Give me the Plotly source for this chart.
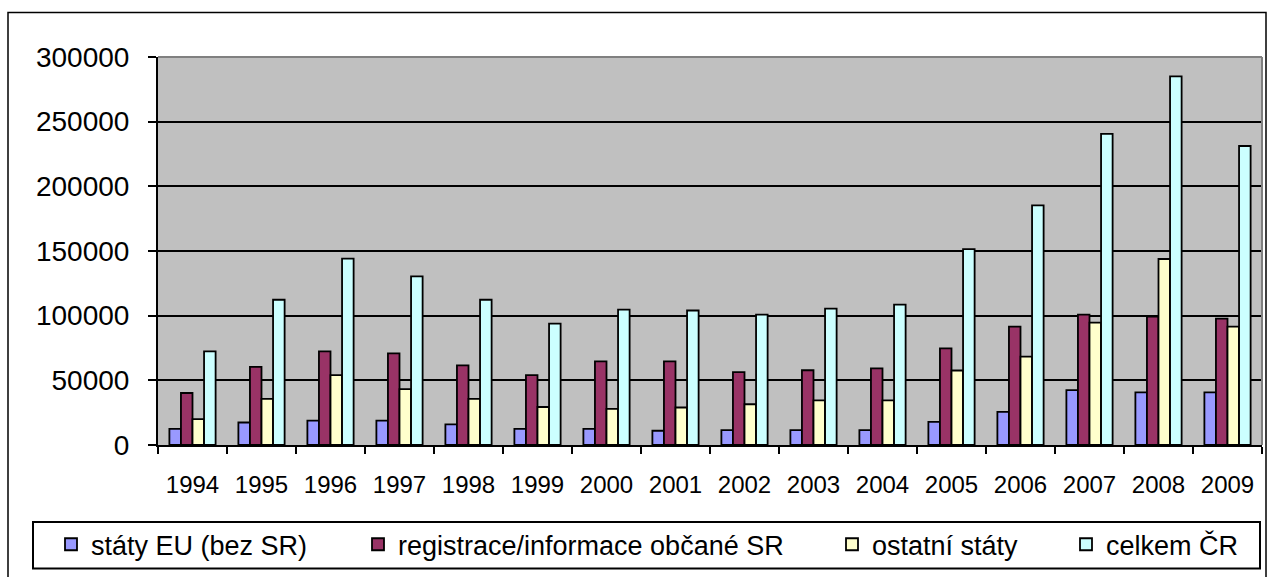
import plotly.graph_objects as go

years = ["1994", "1995", "1996", "1997", "1998", "1999", "2000", "2001",
         "2002", "2003", "2004", "2005", "2006", "2007", "2008", "2009"]
eu_states = [12500, 17400, 18900, 18900, 15900, 12500, 12500, 11000,
             11500, 11500, 11500, 17900, 25600, 42500, 40700, 40700]
sr_citizens = [40200, 60400, 72400, 70900, 61600, 54000, 64700, 64700,
               56300, 57800, 59300, 74700, 91600, 100800, 99300, 97700]
other_states = [20000, 35600, 54000, 43200, 35600, 29400, 27900, 29000,
                31500, 34500, 34500, 57600, 68300, 94600, 143800, 91600]
total_cr = [72400, 112300, 144100, 130400, 112300, 93900, 104600, 104000,
            100800, 105400, 108500, 151400, 185200, 240500, 285000, 231200]

names = ["státy EU (bez SR)", "registrace/informace občané SR", "ostatní státy", "celkem ČR"]
colors = ["#9999FF", "#993366", "#FFFFCC", "#CCFFFF"]
series = [eu_states, sr_citizens, other_states, total_cr]
legend_ids = ["legend", "legend2", "legend3", "legend4"]

W, H = 1270, 577
L, R, T, B = 158, 8, 57, 127
pw = W - L - R
ph = H - T - B

def px_x(x):
    return (x - L) / pw

def px_y(y):
    return (H - B - y) / ph

FONT = "Liberation Sans, Arial, sans-serif"

fig = go.Figure()
for nm, col, vals, lg in zip(names, colors, series, legend_ids):
    fig.add_trace(go.Bar(
        x=years, y=vals, name=nm, legend=lg,
        marker=dict(color=col, line=dict(color="black", width=1.8)),
    ))

legend_centers = [70, 377, 851, 1085]
leg_y = px_y(551)
legend_common = dict(
    orientation="h", yanchor="middle", xanchor="left",
    bgcolor="rgba(0,0,0,0)", borderwidth=0,
    font=dict(family=FONT, size=27, color="black"),
)
layout_legends = {}
for lg, cx in zip(legend_ids, legend_centers):
    layout_legends[lg] = dict(x=px_x(cx - 19), y=leg_y, **legend_common)

fig.update_layout(
    width=W, height=H,
    margin=dict(l=L, r=R, t=T, b=B),
    paper_bgcolor="white",
    plot_bgcolor="#C0C0C0",
    barmode="group",
    bargap=0.33,
    bargroupgap=0,
    showlegend=True,
    **layout_legends,
)

fig.update_xaxes(
    type="category",
    showline=True, linecolor="black", linewidth=2,
    ticks="outside", tickson="boundaries", ticklen=7, tickwidth=2, tickcolor="black",
    tickfont=dict(family=FONT, size=24, color="black"),
    ticklabelstandoff=17,
    showgrid=False,
)
fig.update_yaxes(
    range=[0, 300000], dtick=50000, tickformat="d",
    showline=True, linecolor="black", linewidth=2,
    ticks="outside", ticklen=8, tickwidth=2, tickcolor="black",
    tickfont=dict(family=FONT, size=28, color="black"),
    ticklabelstandoff=13,
    showgrid=True, gridcolor="black", gridwidth=1.5,
    zeroline=False,
)

shapes = [
    dict(type="line", xref="paper", yref="paper", x0=0, x1=1, y0=1, y1=1,
         line=dict(color="#808080", width=2)),
    dict(type="line", xref="paper", yref="paper", x0=1, x1=1, y0=0, y1=1,
         line=dict(color="#808080", width=2)),
    dict(type="rect", xref="paper", yref="paper",
         x0=px_x(33), x1=px_x(1260), y0=px_y(528), y1=px_y(575),
         line=dict(color="black", width=2), fillcolor="rgba(0,0,0,0)"),
    dict(type="rect", xref="paper", yref="paper",
         x0=px_x(8), x1=px_x(1266), y0=px_y(12), y1=px_y(590),
         line=dict(color="black", width=1.5), fillcolor="rgba(0,0,0,0)"),
]
fig.update_layout(shapes=shapes)

fig.write_html(
    "out.html",
    config={"displayModeBar": False},
    post_script="document.body.style.margin='0';document.body.style.overflow='hidden';",
)
